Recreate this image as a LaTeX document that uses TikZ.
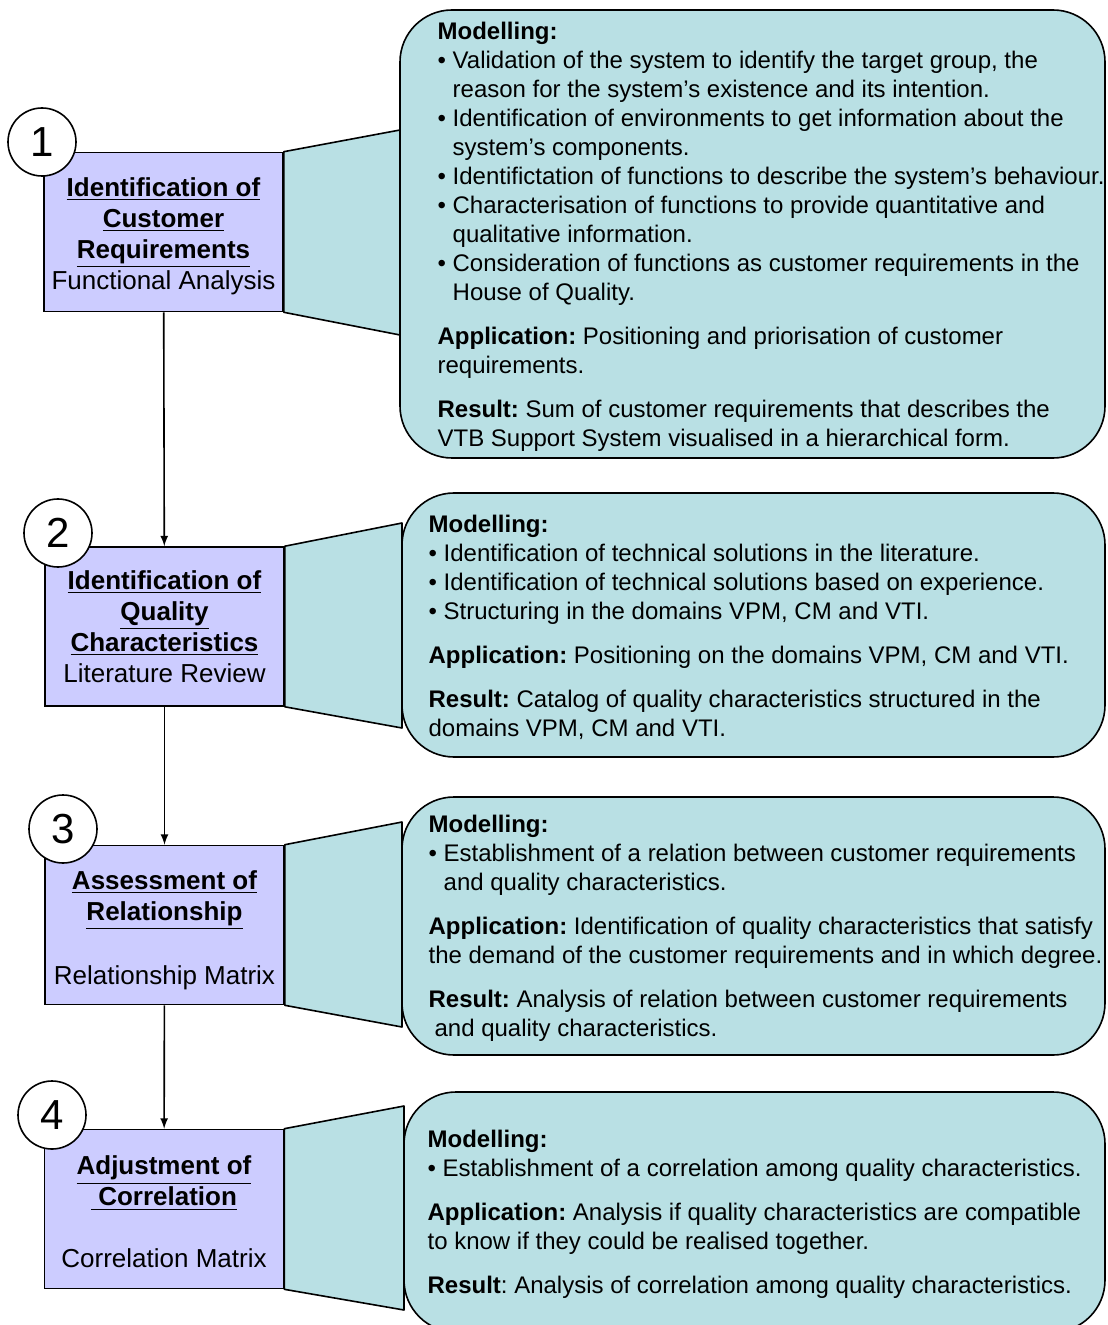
\documentclass[tikz,border=0pt]{standalone}
\usepackage{fontspec}
\setmainfont{Liberation Sans}
\usepackage{tikz}
\usetikzlibrary{arrows}
\definecolor{stagefill}{RGB}{204,204,255}
\definecolor{notefill}{RGB}{185,224,228}
\newcommand{\bl}{\textbullet\ }
\newcommand{\ind}{\phantom{\textbullet\ }}
\newcommand{\ul}[1]{\underline{\textbf{#1}}}
\frenchspacing

\begin{document}
\begin{tikzpicture}[x=0.5pt,y=-0.5pt,
	stage/.style={draw=black, fill=stagefill, line width=0.8pt, minimum width=119.5pt, minimum height=79.5pt, inner sep=0pt, align=center, font=\fontsize{13}{15.5}\selectfont},
	note/.style={draw=black, fill=notefill, line width=0.8pt, rounded corners=26pt, inner sep=0pt},
	notetext/.style={anchor=west, inner sep=0pt, align=left, font=\fontsize{12}{14.5}\selectfont},
	funnel/.style={draw=black, fill=notefill, line width=0.8pt, line join=round},
	num/.style={circle, draw=black, fill=white, line width=0.8pt, inner sep=0pt, minimum size=34pt, font=\fontsize{21}{24}\selectfont}]
	\useasboundingbox (0,0) rectangle (1107,1325);
	% callouts
	\node[note, minimum width=352.5pt, minimum height=224pt] (c1) at (752.5,234) {};
	\node[note, minimum width=351.5pt, minimum height=132pt] (c2) at (753.5,625) {};
	\node[note, minimum width=351.5pt, minimum height=129pt] (c3) at (753.5,926) {};
	\node[note, minimum width=350.5pt, minimum height=120pt] (c4) at (754.5,1212) {};
	% stages
	\node[stage] (b1) at (163.5,232) {\rule{0pt}{13.5pt}\ul{Identification of}\\ \ul{Customer}\\ \ul{Requirements}\\ Functional Analysis};
	\node[stage] (b2) at (164.5,626.5) {\ul{Identification of}\\ \ul{Quality}\\ \ul{Characteristics}\\ Literature Review};
	\node[stage] (b3) at (164.5,925) {\rule{0pt}{14.5pt}\ul{Assessment of}\\ \ul{Relationship}\\ \strut\\ Relationship Matrix};
	\node[stage] (b4) at (164,1209) {\rule{0pt}{12.5pt}\ul{Adjustment of}\\ \ul{\ Correlation}\\ \strut\\ Correlation Matrix};
	% funnels
	\draw[funnel] (b1.north east) -- (400,130) -- (400,335) -- (b1.south east) -- cycle;
	\draw[funnel] (b2.north east) -- (402,523) -- (402,728) -- (b2.south east) -- cycle;
	\draw[funnel] (b3.north east) -- (402,822) -- (402,1027) -- (b3.south east) -- cycle;
	\draw[funnel] (b4.north east) -- (404,1106) -- (404,1310) -- (b4.south east) -- cycle;
	% arrows
	\draw[-latex, line width=0.8pt] (b1) -- (b2);
	\draw[-latex, line width=0.8pt] (b2) -- (b3);
	\draw[-latex, line width=0.8pt] (b3) -- (b4);
	% numbers
	\node[num] (n1) at (42,142) {1};
	\node[num] (n2) at (58,533) {2};
	\node[num] (n3) at (63,829) {3};
	\node[num] (n4) at (52,1115) {4};
	% texts
	\node[notetext] (t1) at ([xshift=19pt,yshift=-1.5pt]c1.west) {\textbf{Modelling:}\\
		\bl Validation of the system to identify the target group, the\\
		\ind reason for the system’s existence and its intention.\\
		\bl Identification of environments to get information about the\\
		\ind system’s components.\\
		\bl Identifictation of functions to describe the system’s behaviour.\\
		\bl Characterisation of functions to provide quantitative and\\
		\ind qualitative information.\\
		\bl Consideration of functions as customer requirements in the\\
		\ind House of Quality.\\[7.5pt]
		\textbf{Application:} Positioning and priorisation of customer\\
		requirements.\\[7.5pt]
		\textbf{Result:} Sum of customer requirements that describes the\\
		VTB Support System visualised in a hierarchical form.};
	\node[notetext] (t2) at ([xshift=13.5pt,yshift=-1pt]c2.west) {\textbf{Modelling:}\\
		\bl Identification of technical solutions in the literature.\\
		\bl Identification of technical solutions based on experience.\\
		\bl Structuring in the domains VPM, CM and VTI.\\[7.5pt]
		\textbf{Application:} Positioning on the domains VPM, CM and VTI.\\[7.5pt]
		\textbf{Result:} Catalog of quality characteristics structured in the\\
		domains VPM, CM and VTI.};
	\node[notetext] (t3) at ([xshift=13.5pt,yshift=-1pt]c3.west) {\textbf{Modelling:}\\
		\bl Establishment of a relation between customer requirements\\
		\ind and quality characteristics.\\[7.5pt]
		\textbf{Application:} Identification of quality characteristics that satisfy\\
		the demand of the customer requirements and in which degree.\\[7.5pt]
		\textbf{Result:} Analysis of relation between customer requirements\\
		\hspace*{3pt}and quality characteristics.};
	\node[notetext] (t4) at ([xshift=12pt,yshift=-1pt]c4.west) {\textbf{Modelling:}\\
		\bl Establishment of a correlation among quality characteristics.\\[7.5pt]
		\textbf{Application:} Analysis if quality characteristics are compatible\\
		to know if they could be realised together.\\[7.5pt]
		\textbf{Result}: Analysis of correlation among quality characteristics.};
\end{tikzpicture}
\end{document}
